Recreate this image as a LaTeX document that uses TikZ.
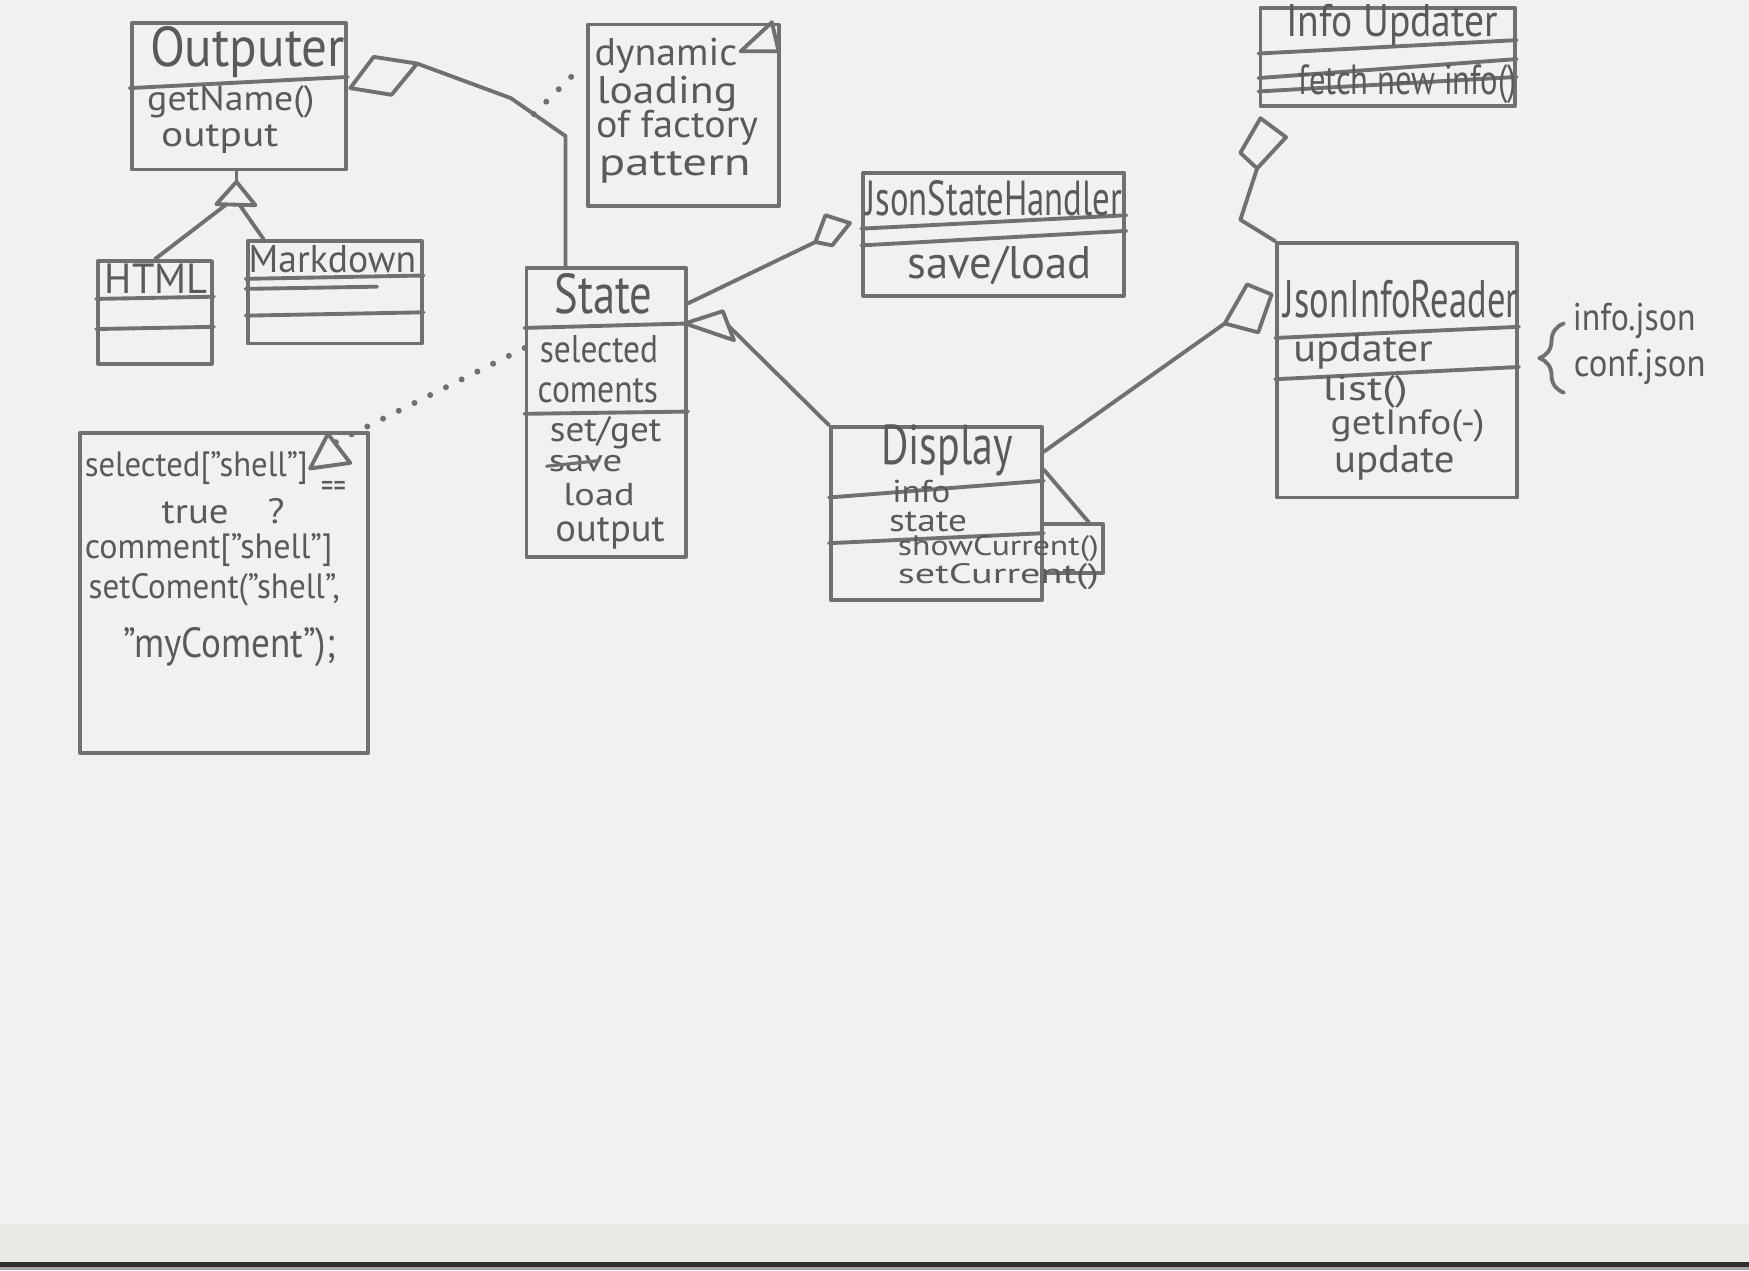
\documentclass[tikz,border=0pt]{standalone}
\usepackage{fontspec}
\usepackage{graphicx}
\setmainfont{PT Sans}
\usetikzlibrary{fit,calc,decorations.pathreplacing}
\definecolor{paper}{RGB}{241,241,240}
\definecolor{band}{RGB}{233,233,230}
\definecolor{rim}{RGB}{48,48,48}
\definecolor{pencil}{RGB}{112,112,112}
\definecolor{lead}{RGB}{90,90,90}
\newlength\unitlen
\setlength\unitlen{0.11154mm}
% text set at a given size, stretched to a given width (in picture units)
\newcommand\hw[3]{\resizebox{#1\unitlen}{\height}{\fontsize{#2}{#2}\selectfont #3}}

\begin{document}
\begin{tikzpicture}[x=0.11154mm, y=-0.11154mm, line cap=round, line join=round,
  box/.style={draw=pencil, line width=1.1pt, inner sep=0pt},
  rule/.style={draw=pencil, line width=1.1pt},
  link/.style={draw=pencil, line width=1.1pt},
  hollow/.style={draw=pencil, line width=1.1pt, fill=paper},
  dots/.style={draw=pencil, line width=1.7pt, dash pattern=on 0pt off 5pt, line cap=round},
  hand/.style={text=lead, inner sep=0pt, anchor=center}]

% sheet
\useasboundingbox (0,0) rectangle (1568,1139);
\fill[paper] (0,0) rectangle (1568,1139);
\fill[band] (0,1097) rectangle (1568,1131);
\fill[rim] (0,1131) rectangle (1568,1136);
\fill[black!35] (0,1136) rectangle (1568,1139);

% ---------- Outputer and its subclasses ----------
\node[box, fit={(118,21) (310,152)}] (outputer) {};
\draw[rule] (outputer.west |- 0,79) -- (outputer.east |- 0,69);
\node[hand] (tOut) at (222,47) {\hw{175}{16}{Outputer}};
\node[hand] (tGetName) at (207,91) {\hw{150}{10}{getName()}};
\node[hand] (tOutputA) at (197,125) {\hw{105}{10}{output}};

\node[box, fit={(88,234) (190,326)}] (html) {};
\draw[rule] (html.west |- 0,268) -- (html.east |- 0,266);
\draw[rule] (html.west |- 0,295) -- (html.east |- 0,293);
\node[hand] (tHtml) at (140,250) {\hw{92}{12}{HTML}};

\node[box, fit={(222,216) (378,308)}] (markdown) {};
\draw[rule] (markdown.west |- 0,250) -- (markdown.east |- 0,247);
\draw[rule] (markdown.west |- 0,259) -- (338,257);
\draw[rule] (markdown.west |- 0,283) -- (markdown.east |- 0,280);
\node[hand] (tMd) at (298,232) {\hw{150}{11}{Markdown}};

\coordinate (gA) at (212,163);
\coordinate (gL) at (194,183);
\coordinate (gR) at (229,184);
\coordinate (gB1) at (202,184);
\coordinate (gB2) at (215,184);
\draw[link] (gA |- outputer.south) -- (gA);
\draw[link] (gB1) -- (html.north);
\draw[link] (gB2) -- ($(markdown.north west)!0.1!(markdown.north east)$);
\draw[hollow] (gA) -- (gL) -- (gR) -- cycle;

% ---------- note on dynamic loading ----------
\node[box, fit={(527,22) (698,185)}] (dynamic) {};
\draw[hollow] (664,46) -- (692,20) -- (698,46) -- cycle;
\node[hand] (tDyn1) at (597,50) {\hw{128}{11}{dynamic}};
\node[hand] (tDyn2) at (598,84) {\hw{126}{11}{loading}};
\node[hand] (tDyn3) at (607,115) {\hw{145}{11}{of factory}};
\node[hand] (tDyn4) at (605,150) {\hw{136}{11}{pattern}};

% ---------- State ----------
\node[box, fit={(472,240) (615,499)}] (state) {};
\draw[rule] (state.west |- 0,294) -- (state.east |- 0,290);
\draw[rule] (state.west |- 0,371) -- (state.east |- 0,369);
\node[hand] (tState) at (541,263) {\hw{88}{16}{State}};
\node[hand] (tSel) at (537,313) {\hw{106}{11}{selected}};
\node[hand] (tCom) at (536,350) {\hw{108}{11}{coments}};
\node[hand] (tSetGet) at (543,388) {\hw{100}{10}{set/get}};
\node[hand] (tSave) at (525,416) {\hw{66}{9}{save}};
\draw[rule, line width=0.9pt] (490,418) -- (537,413);
\node[hand] (tLoad) at (537,443) {\hw{64}{9}{load}};
\node[hand] (tOutputB) at (547,478) {\hw{98}{11}{output}};

% Outputer aggregated by State
\coordinate (oL) at (314,79);
\coordinate (oT) at (335,51);
\coordinate (oR) at (374,57);
\coordinate (oB) at (351,85);
\coordinate (bend1) at (458,88);
\coordinate (bend2) at (507,122);
\draw[link] (oR) -- (bend1) -- (bend2) -- (bend2 |- state.north);
\draw[hollow] (oL) -- (oT) -- (oR) -- (oB) -- cycle;
\coordinate (dotS) at ($(bend1)!0.42!(bend2)$);
\coordinate (dotE) at (518,63);
\draw[dots] (dotS) -- (dotE);

% ---------- JsonStateHandler ----------
\node[box, fit={(774,155) (1008,265)}] (jsh) {};
\draw[rule] (jsh.west |- 0,205) -- (jsh.east |- 0,193);
\draw[rule] (jsh.west |- 0,220) -- (jsh.east |- 0,207);
\node[hand] (tJsh) at (891,178) {\hw{230}{14}{JsonStateHandler}};
\node[hand] (tSaveLoad) at (896,238) {\hw{165}{13}{save/load}};

\coordinate (sD1) at (731,217);
\coordinate (sD2) at (740,193);
\coordinate (sD3) at (762,200);
\coordinate (sD4) at (746,220);
\draw[link] (state.east |- 0,272) -- (sD1);
\draw[hollow] (sD1) -- (sD2) -- (sD3) -- (sD4) -- cycle;

% ---------- Display ----------
\node[box, fit={(745,383) (934,538)}] (display) {};
\node[box, fit={(934,470) (989,514)}] (dispx) {};
\draw[rule] (display.west |- 0,446) -- (display.east |- 0,431);
\draw[rule] (display.west |- 0,487) -- (display.east |- 0,478);
\draw[rule] (display.east |- 0,421) -- ($(dispx.north west)!0.75!(dispx.north east)$);
\node[hand] (tDisp) at (849,404) {\hw{118}{16}{Display}};
\node[hand] (tInfo) at (826,441) {\hw{52}{9}{info}};
\node[hand] (tStateA) at (832,468) {\hw{70}{9}{state}};
\node[hand] (tShow) at (895,492) {\hw{180}{8}{showCurrent()}};
\node[hand] (tSet) at (895,517) {\hw{180}{8}{setCurrent()}};

% Display aggregated by State
\coordinate (tA) at (614,290);
\coordinate (tB) at (648,279);
\coordinate (tC) at (658,305);
\draw[link] ($(tB)!0.5!(tC)$) -- (display.north west);
\draw[hollow] (tA) -- (tB) -- (tC) -- cycle;

% ---------- JsonInfoReader ----------
\node[box, fit={(1145,218) (1360,446)}] (jir) {};
\draw[rule] (jir.west |- 0,303) -- (jir.east |- 0,293);
\draw[rule] (jir.west |- 0,340) -- (jir.east |- 0,329);
\node[hand] (tJir) at (1256,268) {\hw{210}{15}{JsonInfoReader}};
\node[hand] (tUpdater) at (1222,315) {\hw{125}{11}{updater}};
\node[hand] (tList) at (1224,351) {\hw{76}{10}{list()}};
\node[hand] (tGetInfo) at (1262,382) {\hw{138}{10}{getInfo(-)}};
\node[hand] (tUpdate) at (1250,415) {\hw{108}{11}{update}};

\coordinate (rD1) at (1098,290);
\coordinate (rD2) at (1118,255);
\coordinate (rD3) at (1140,264);
\coordinate (rD4) at (1128,298);
\draw[link] (display.east |- 0,405) -- (rD1);
\draw[hollow] (rD1) -- (rD2) -- (rD3) -- (rD4) -- cycle;

% data files read by the reader
\draw[rule, decorate, decoration={brace, amplitude=7pt}] (1402,352) -- (1402,290);
\node[hand] (tInfoJson) at (1465,288) {\hw{110}{11}{info.json}};
\node[hand] (tConfJson) at (1470,329) {\hw{118}{11}{conf.json}};

% ---------- InfoUpdater ----------
\node[box, fit={(1130,7) (1358,95)}] (iu) {};
\draw[rule] (iu.west |- 0,48) -- (iu.east |- 0,36);
\draw[rule] (iu.west |- 0,70) -- (iu.east |- 0,53);
\draw[rule] (iu.west |- 0,82) -- (iu.east |- 0,69);
\node[hand] (tIu) at (1248,22) {\hw{190}{13}{Info Updater}};
\node[hand] (tFetch) at (1262,75) {\hw{195}{12}{fetch new info()}};

\coordinate (uT) at (1130,106);
\coordinate (uR) at (1153,123);
\coordinate (uB) at (1127,151);
\coordinate (uL) at (1112,137);
\coordinate (uBend) at (1112,197);
\draw[link] (uB) -- (uBend) -- (jir.north west);
\draw[hollow] (uT) -- (uR) -- (uB) -- (uL) -- cycle;

% ---------- note on selected / comments ----------
\node[box, fit={(72,388) (330,675)}] (cond) {};
\draw[hollow] (278,420) -- (294,389) -- (314,415) -- cycle;
\node[hand] (tC1) at (176,420) {\hw{200}{10}{selected["shell"]}};
\node[hand] (tC1b) at (299,439) {\hw{22}{10}{==}};
\node[hand] (tC2) at (200,458) {\hw{110}{10}{true\quad ?}};
\node[hand] (tC3) at (187,493) {\hw{222}{10}{comment["shell"]}};
\node[hand] (tC4) at (192,529) {\hw{225}{10}{setComent("shell",}};
\node[hand] (tC5) at (206,580) {\hw{190}{12}{"myComent");}};

\coordinate (condTip) at (300,397);
\draw[dots] (state.west |- 0,312) -- (condTip);

\end{tikzpicture}
\end{document}
